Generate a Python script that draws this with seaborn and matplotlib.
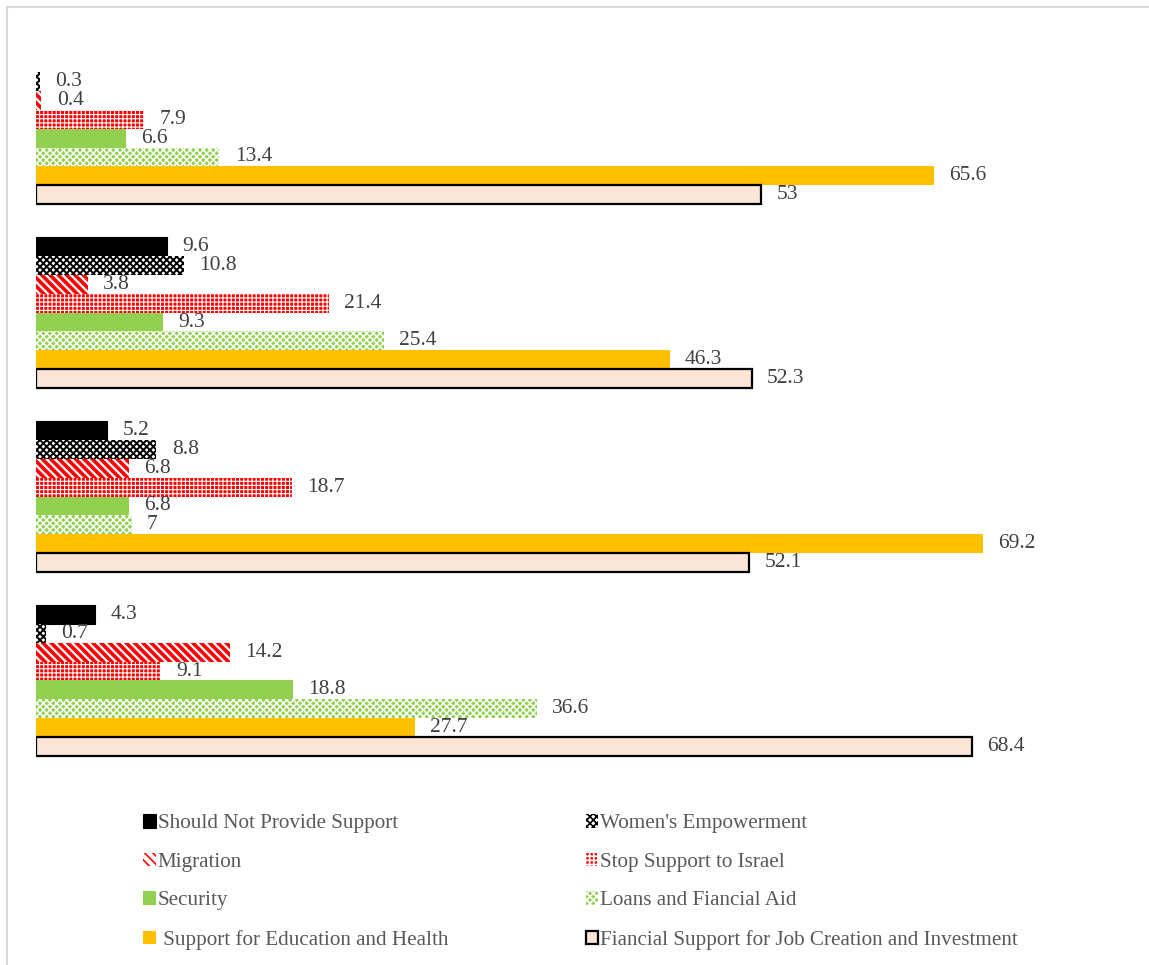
import numpy as np
import pandas as pd
import matplotlib
matplotlib.use("Agg")
import matplotlib.pyplot as plt
from matplotlib.patches import Rectangle, Patch
import seaborn as sns

# Survey groups (drawn top to bottom) and answer options
groups = ["Group 1", "Group 2", "Group 3", "Group 4"]
options = [
    "Should Not Provide Support",
    "Women's Empowerment",
    "Migration",
    "Stop Support to Israel",
    "Security",
    "Loans and Fiancial Aid",
    " Support for Education and Health",
    "Fiancial Support for Job Creation and Investment",
]

# Percentages per option, one entry per group (None = not reported)
should_not = [None, 9.6, 5.2, 4.3]
womens_empowerment = [0.3, 10.8, 8.8, 0.7]
migration = [0.4, 3.8, 6.8, 14.2]
stop_support_israel = [7.9, 21.4, 18.7, 9.1]
security = [6.6, 9.3, 6.8, 18.8]
loans_aid = [13.4, 25.4, 7, 36.6]
education_health = [65.6, 46.3, 69.2, 27.7]
job_creation = [53, 52.3, 52.1, 68.4]

series = [should_not, womens_empowerment, migration, stop_support_israel,
          security, loans_aid, education_health, job_creation]

rows = []
for opt, vals in zip(options, series):
    for g, v in zip(groups, vals):
        if v is not None:
            rows.append({"group": g, "option": opt, "value": v})
df = pd.DataFrame(rows)

# Fill / hatch styling per option
styles = {
    options[0]: dict(face="#000000", edge="#000000", hatch=None, lw=0.8, hlw=1),
    options[1]: dict(face="#ffffff", edge="#000000", hatch="xxxxx", lw=0, hlw=1.4),
    options[2]: dict(face="#ffffff", edge="#ff0000", hatch="\\\\\\\\", lw=0, hlw=2.6),
    options[3]: dict(face="#ff0000", edge="#ffffff", hatch="++++", lw=0, hlw=0.8),
    options[4]: dict(face="#92d050", edge="#92d050", hatch=None, lw=0, hlw=1),
    options[5]: dict(face="#92d050", edge="#ffffff", hatch="xxxxx", lw=0, hlw=1.1),
    options[6]: dict(face="#ffc000", edge="#ffc000", hatch=None, lw=0, hlw=1),
    options[7]: dict(face="#fbe5d6", edge="#000000", hatch=None, lw=1.6, hlw=1),
}

sns.set_theme(style="white")
plt.rcParams["font.family"] = ["Liberation Serif", "DejaVu Serif"]
plt.rcParams["hatch.linewidth"] = 1.2


def style_patch(p, st):
    p.set_facecolor(st["face"])
    p.set_edgecolor(st["edge"])
    p.set_linewidth(st["lw"])
    if st["hatch"]:
        p.set_hatch(st["hatch"])
        if hasattr(p, "set_hatch_linewidth"):
            p.set_hatch_linewidth(st["hlw"])


W, H = 1149, 965
fig = plt.figure(figsize=(W / 100, H / 100), dpi=100)

# Light grey frame around the chart area
fig.add_artist(Rectangle((7 / W, -0.05), 1.2, 1 - 7 / H + 0.05,
                         transform=fig.transFigure, fill=False,
                         edgecolor="#d9d9d9", linewidth=1.5))

ax = fig.add_axes([36 / W, 0.1996, 1095 / W, 0.7623])
sns.barplot(data=df, x="value", y="group", hue="option",
            order=groups, hue_order=options, orient="h",
            width=0.82, dodge=True, legend=False, ax=ax,
            errorbar=None)

for opt, container in zip(options, ax.containers):
    st = styles[opt]
    for bar in container:
        style_patch(bar, st)
    labels = [f"{v:g}" if not np.isnan(v) else "" for v in container.datavalues]
    ax.bar_label(container, labels=labels, padding=11, fontsize=15.5,
                 color="#404040")

ax.set_xlim(0, 80)
ax.set_ylim(3.5, -0.5)
ax.set_xlabel("")
ax.set_ylabel("")
ax.set_xticks([])
ax.set_yticks([])
for s in ax.spines.values():
    s.set_visible(False)
ax.patch.set_alpha(0)

# Legend, filled row by row in two columns
handles = []
for opt in options:
    h = Patch(label=opt)
    style_patch(h, styles[opt])
    handles.append(h)
col_order = [0, 2, 4, 6, 1, 3, 5, 7]
leg = fig.legend([handles[i] for i in col_order],
                 [options[i] for i in col_order],
                 ncol=2, loc="center left",
                 bbox_to_anchor=(124 / W, 1 - 882 / H),
                 frameon=False, fontsize=15.2, handlelength=0.6,
                 handleheight=0.6, handletextpad=0.1,
                 labelspacing=0.92, columnspacing=6.5)
for t in leg.get_texts():
    t.set_color("#595959")

fig.savefig("out.png", dpi=100)
